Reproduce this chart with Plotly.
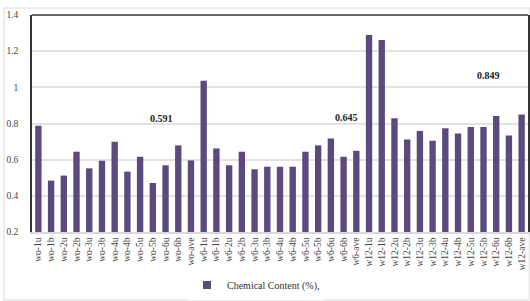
import plotly.graph_objects as go

categories = ["wo-1u", "wo-1b", "wo-2u", "wo-2b", "wo-3u", "wo-3b", "wo-4u", "wo-4b",
              "wo-5u", "wo-5b", "wo-6u", "wo-6b", "wo-ave",
              "w6-1u", "w6-1b", "w6-2u", "w6-2b", "w6-3u", "w6-3b", "w6-4u", "w6-4b",
              "w6-5u", "w6-5b", "w6-6u", "w6-6b", "w6-ave",
              "w12-1u", "w12-1b", "w12-2u", "w12-2b", "w12-3u", "w12-3b", "w12-4u", "w12-4b",
              "w12-5u", "w12-5b", "w12-6u", "w12-6b", "w12-ave"]
values = [0.787, 0.484, 0.512, 0.644, 0.552, 0.594, 0.699, 0.534,
          0.616, 0.471, 0.569, 0.679, 0.596,
          1.037, 0.662, 0.569, 0.644, 0.547, 0.561, 0.561, 0.561,
          0.644, 0.679, 0.717, 0.616, 0.649,
          1.290, 1.262, 0.829, 0.712, 0.759, 0.704, 0.774, 0.745,
          0.781, 0.781, 0.842, 0.734, 0.850]
avg_labels = ["0.591", "0.645", "0.849"]
avg_x = [9.7, 24.2, 35.4]
avg_y = [0.829, 0.835, 1.066]
series_name = "Chemical Content (%),"
y_ticks = [0.2, 0.4, 0.6, 0.8, 1.0, 1.2, 1.4]
y_tick_text = ["0.2", "0.4", "0.6", "0.8", "1", "1.2", "1.4"]

BAR = "#5b4a7e"
SERIF = "Liberation Serif"

fig = go.Figure()
fig.add_trace(go.Bar(x=categories, y=values, name=series_name,
                     marker=dict(color=BAR, line=dict(width=0)),
                     showlegend=False))
# legend entry with a small square swatch
fig.add_trace(go.Scatter(x=[None], y=[None], mode="markers", name=series_name,
                         marker=dict(symbol="square", size=8, color=BAR),
                         showlegend=True))

for t, x, y in zip(avg_labels, avg_x, avg_y):
    fig.add_annotation(x=x, y=y, xref="x", yref="y", text="<b>%s</b>" % t,
                       showarrow=False, font=dict(family=SERIF, size=10, color="#222"))

W, H = 530, 301
L, R, T, B = 32, 2, 15, 69
pw = W - L - R
ph = H - T - B
def px(xp):
    return (xp - L) / pw
def py(yp):
    return (H - B - yp) / ph

# outer light frame
fig.add_shape(type="rect", xref="paper", yref="paper",
              x0=px(4), x1=px(529.5), y0=py(300), y1=py(8),
              line=dict(color="#e6e6e6", width=1.5), layer="below")
# top dark line of plot area
fig.add_shape(type="line", xref="paper", yref="paper", x0=0, x1=1, y0=1, y1=1,
              line=dict(color="#333", width=1.5))

fig.update_layout(
    width=W, height=H,
    margin=dict(l=L, r=R, t=T, b=B, autoexpand=False),
    paper_bgcolor="white", plot_bgcolor="white",
    bargap=0.5,
    font=dict(family=SERIF, size=9, color="#444"),
    legend=dict(orientation="h", x=px(256), xanchor="center", y=py(285), yanchor="middle",
                font=dict(family=SERIF, size=10, color="#333"),
                itemwidth=30),
    xaxis=dict(type="category", tickangle=-90, showgrid=False, automargin=False,
               showline=True, linecolor="#d9d9d9", linewidth=1.5,
               tickfont=dict(family=SERIF, size=9.5, color="#444"),
               ticks="", range=[-0.5, len(categories) - 0.5]),
    yaxis=dict(range=[0.2, 1.4], tickvals=y_ticks, ticktext=y_tick_text, automargin=False,
               showgrid=True, gridcolor="#e3e3e3", gridwidth=1.5,
               showline=True, mirror=True, linecolor="#333", linewidth=1.5,
               zeroline=False, ticks="", ticklabelstandoff=10,
               tickfont=dict(family=SERIF, size=9.5, color="#444")),
)

fig.write_html("out.html", config={"displayModeBar": False},
               post_script="document.body.style.margin='0';document.body.style.overflow='hidden';")
